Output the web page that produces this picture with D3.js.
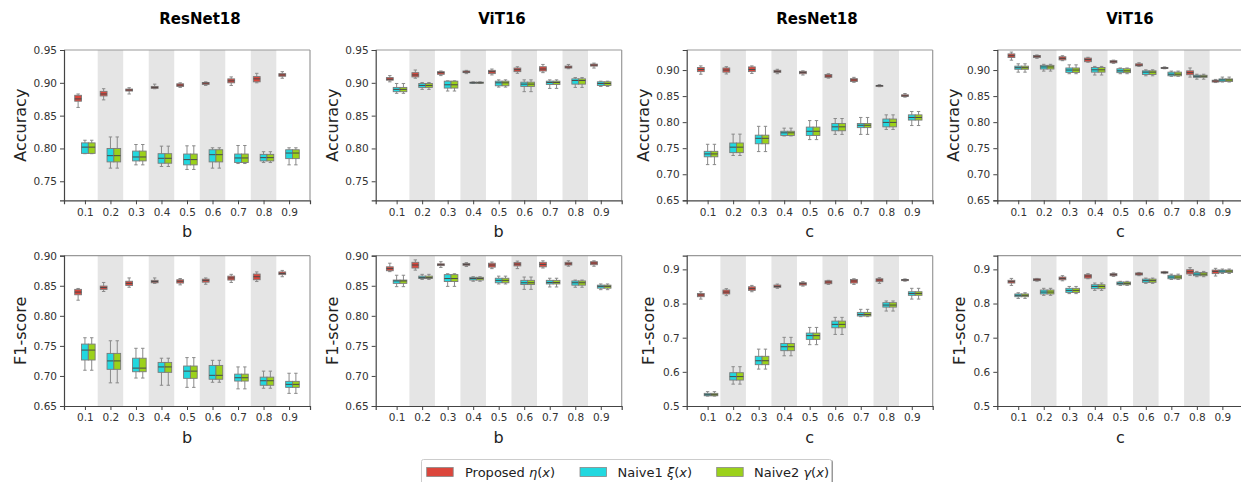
<!DOCTYPE html>
<html>
<head>
<meta charset="utf-8">
<script src="https://cdn.jsdelivr.net/npm/d3@7"></script>
<style>
  body { margin: 0; background: #fff; }
  svg { display: block; font-family: "DejaVu Sans", sans-serif; }
</style>
</head>
<body>
<svg width="1241" height="482"></svg>
<script>
const cats = ["0.1", "0.2", "0.3", "0.4", "0.5", "0.6", "0.7", "0.8", "0.9"];
const seriesNames = ["Proposed", "Naive1", "Naive2"];
const colors = ["#dc463c", "#22d8df", "#9bd11a"];

// each box: [whisker low, q1, median, q3, whisker high]
// Accuracy, ResNet18, b
const accResB_prop = [
  [0.8625, 0.872, 0.8755, 0.881, 0.883], [0.874, 0.880, 0.883, 0.887, 0.891],
  [0.883, 0.8875, 0.889, 0.8905, 0.8925], [0.891, 0.8915, 0.893, 0.8945, 0.898],
  [0.893, 0.8945, 0.8965, 0.8985, 0.900], [0.896, 0.8975, 0.8995, 0.9005, 0.9015],
  [0.896, 0.900, 0.903, 0.906, 0.909], [0.900, 0.9015, 0.906, 0.9095, 0.9145],
  [0.907, 0.910, 0.912, 0.914, 0.917]
];
const accResB_naive1 = [
  [0.792, 0.7925, 0.802, 0.8085, 0.8125], [0.770, 0.7795, 0.789, 0.800, 0.8175],
  [0.775, 0.781, 0.787, 0.796, 0.806], [0.7725, 0.7775, 0.785, 0.792, 0.8035],
  [0.768, 0.775, 0.783, 0.7915, 0.804], [0.770, 0.7795, 0.7905, 0.798, 0.801],
  [0.777, 0.7785, 0.7855, 0.7915, 0.8045], [0.7785, 0.781, 0.786, 0.791, 0.795],
  [0.775, 0.7845, 0.793, 0.798, 0.801]
];
// Accuracy, ViT16, b
const accVitB_prop = [
  [0.9015, 0.904, 0.9055, 0.908, 0.911], [0.907, 0.909, 0.912, 0.9155, 0.9195],
  [0.911, 0.913, 0.9155, 0.917, 0.918], [0.914, 0.9155, 0.9165, 0.918, 0.919],
  [0.912, 0.914, 0.917, 0.919, 0.921], [0.9145, 0.917, 0.920, 0.9225, 0.9245],
  [0.9155, 0.918, 0.921, 0.9245, 0.928], [0.9215, 0.9225, 0.924, 0.9255, 0.928],
  [0.9225, 0.9255, 0.927, 0.9285, 0.930]
];
const accVitB_naive1 = [
  [0.884, 0.8865, 0.890, 0.893, 0.899], [0.890, 0.893, 0.896, 0.899, 0.9005],
  [0.8875, 0.892, 0.897, 0.9025, 0.903], [0.899, 0.8995, 0.900, 0.901, 0.9015],
  [0.8935, 0.8955, 0.900, 0.9025, 0.9045], [0.8865, 0.8945, 0.898, 0.901, 0.9045],
  [0.8915, 0.8975, 0.9005, 0.9025, 0.9045], [0.893, 0.898, 0.9035, 0.906, 0.908],
  [0.8945, 0.896, 0.899, 0.9015, 0.9025]
];
// Accuracy, ResNet18, c
const accResC_prop = [
  [0.892, 0.897, 0.901, 0.905, 0.908], [0.8925, 0.896, 0.900, 0.904, 0.9065],
  [0.8935, 0.897, 0.901, 0.906, 0.908], [0.893, 0.8955, 0.8975, 0.8995, 0.9015],
  [0.8905, 0.893, 0.8955, 0.8975, 0.8985], [0.8845, 0.886, 0.8885, 0.8915, 0.893],
  [0.8765, 0.878, 0.881, 0.8835, 0.886], [0.868, 0.8685, 0.870, 0.8705, 0.872],
  [0.848, 0.8495, 0.8505, 0.8525, 0.855]
];
const accResC_naive1 = [
  [0.7185, 0.7335, 0.739, 0.744, 0.7575], [0.736, 0.7415, 0.752, 0.760, 0.777],
  [0.7435, 0.7585, 0.769, 0.775, 0.792], [0.7735, 0.7745, 0.7795, 0.7825, 0.7885],
  [0.7665, 0.7745, 0.7825, 0.7905, 0.803], [0.7765, 0.7835, 0.791, 0.7975, 0.807],
  [0.7765, 0.7895, 0.794, 0.7975, 0.809], [0.786, 0.791, 0.7995, 0.806, 0.814],
  [0.7935, 0.804, 0.809, 0.814, 0.8205]
];
// Accuracy, ViT16, c
const accVitC_prop = [
  [0.919, 0.924, 0.9275, 0.931, 0.9345], [0.9225, 0.924, 0.9265, 0.928, 0.929],
  [0.918, 0.9195, 0.9225, 0.9255, 0.9275], [0.915, 0.916, 0.920, 0.923, 0.9245],
  [0.913, 0.914, 0.916, 0.918, 0.919], [0.907, 0.908, 0.9095, 0.912, 0.914],
  [0.9025, 0.903, 0.904, 0.905, 0.906], [0.8865, 0.891, 0.895, 0.8985, 0.904],
  [0.876, 0.877, 0.879, 0.8805, 0.882]
];
const accVitC_naive1 = [
  [0.896, 0.9015, 0.9045, 0.9075, 0.912], [0.898, 0.902, 0.906, 0.909, 0.911],
  [0.893, 0.8955, 0.900, 0.904, 0.910], [0.8905, 0.896, 0.9005, 0.905, 0.907],
  [0.893, 0.895, 0.8985, 0.9025, 0.904], [0.889, 0.8915, 0.896, 0.8985, 0.9005],
  [0.888, 0.889, 0.892, 0.896, 0.898], [0.8825, 0.886, 0.888, 0.890, 0.892],
  [0.877, 0.878, 0.881, 0.883, 0.8865]
];
// F1-score, ResNet18, b
const f1ResB_prop = [
  [0.826, 0.835, 0.8395, 0.844, 0.8455], [0.8405, 0.844, 0.847, 0.8495, 0.8555],
  [0.8475, 0.8505, 0.854, 0.8575, 0.863], [0.854, 0.855, 0.857, 0.859, 0.863],
  [0.8515, 0.8545, 0.8575, 0.860, 0.862], [0.8525, 0.856, 0.859, 0.861, 0.863],
  [0.8555, 0.8595, 0.863, 0.866, 0.869], [0.857, 0.860, 0.865, 0.8695, 0.873],
  [0.865, 0.8685, 0.8705, 0.873, 0.8755]
];
const f1ResB_naive1 = [
  [0.7095, 0.7265, 0.743, 0.753, 0.7635], [0.6885, 0.711, 0.725, 0.7375, 0.7585],
  [0.6965, 0.707, 0.713, 0.7295, 0.746], [0.6845, 0.706, 0.715, 0.7225, 0.7295],
  [0.681, 0.696, 0.708, 0.7165, 0.7305], [0.6895, 0.6945, 0.701, 0.7175, 0.726],
  [0.6785, 0.6915, 0.697, 0.703, 0.715], [0.6795, 0.6845, 0.692, 0.698, 0.708],
  [0.671, 0.681, 0.686, 0.691, 0.7045]
];
// F1-score, ViT16, b
const f1VitB_prop = [
  [0.8735, 0.875, 0.8785, 0.8815, 0.8875], [0.876, 0.8795, 0.8845, 0.889, 0.893],
  [0.8805, 0.8835, 0.885, 0.8865, 0.890], [0.882, 0.884, 0.8855, 0.887, 0.8885],
  [0.8785, 0.881, 0.8845, 0.8875, 0.8895], [0.8785, 0.883, 0.886, 0.8885, 0.891],
  [0.8795, 0.8815, 0.8855, 0.889, 0.8915], [0.8825, 0.8845, 0.8865, 0.889, 0.8915],
  [0.8825, 0.885, 0.8878, 0.890, 0.8915]
];
const f1VitB_naive1 = [
  [0.8485, 0.854, 0.858, 0.8595, 0.8675], [0.8605, 0.862, 0.8635, 0.866, 0.869],
  [0.849, 0.857, 0.862, 0.8685, 0.870], [0.8575, 0.8595, 0.862, 0.864, 0.865],
  [0.853, 0.855, 0.859, 0.8625, 0.866], [0.844, 0.852, 0.855, 0.859, 0.8645],
  [0.848, 0.853, 0.8555, 0.859, 0.8625], [0.8475, 0.851, 0.855, 0.858, 0.8595],
  [0.8435, 0.846, 0.849, 0.851, 0.853]
];
// F1-score, ResNet18, c
const f1ResC_prop = [
  [0.813, 0.820, 0.825, 0.8295, 0.8345], [0.823, 0.828, 0.8335, 0.8395, 0.8435],
  [0.8345, 0.8385, 0.8435, 0.849, 0.853], [0.8445, 0.8475, 0.850, 0.854, 0.857],
  [0.851, 0.854, 0.858, 0.861, 0.864], [0.856, 0.858, 0.863, 0.8665, 0.868],
  [0.856, 0.860, 0.866, 0.8705, 0.8725], [0.859, 0.864, 0.869, 0.8725, 0.8755],
  [0.8655, 0.867, 0.869, 0.8705, 0.872]
];
const f1ResC_naive1 = [
  [0.529, 0.530, 0.533, 0.537, 0.542], [0.564, 0.576, 0.586, 0.5975, 0.615],
  [0.608, 0.621, 0.6325, 0.6455, 0.6665], [0.647, 0.662, 0.6735, 0.683, 0.701],
  [0.6795, 0.695, 0.706, 0.7135, 0.730], [0.7095, 0.729, 0.739, 0.7485, 0.7595],
  [0.7615, 0.7635, 0.768, 0.774, 0.783], [0.778, 0.7895, 0.7955, 0.8025, 0.8075],
  [0.813, 0.824, 0.8295, 0.8345, 0.8445]
];
// F1-score, ViT16, c
const f1VitC_prop = [
  [0.853, 0.860, 0.864, 0.868, 0.8735], [0.8655, 0.867, 0.8695, 0.8725, 0.8735],
  [0.8665, 0.8695, 0.8735, 0.8775, 0.8815], [0.8725, 0.8745, 0.8805, 0.8845, 0.8875],
  [0.8795, 0.8815, 0.8845, 0.8875, 0.8895], [0.8815, 0.8835, 0.8865, 0.8895, 0.891],
  [0.8875, 0.889, 0.891, 0.893, 0.894], [0.8825, 0.8865, 0.893, 0.899, 0.905],
  [0.8805, 0.8875, 0.894, 0.898, 0.903]
];
const f1VitC_naive1 = [
  [0.815, 0.820, 0.824, 0.828, 0.8315], [0.824, 0.828, 0.8335, 0.8395, 0.8445],
  [0.829, 0.8325, 0.8385, 0.8445, 0.850], [0.8385, 0.8435, 0.850, 0.855, 0.860],
  [0.853, 0.855, 0.859, 0.863, 0.865], [0.859, 0.862, 0.867, 0.8715, 0.8745],
  [0.8705, 0.8725, 0.8775, 0.8825, 0.886], [0.8785, 0.8815, 0.886, 0.891, 0.894],
  [0.888, 0.891, 0.895, 0.898, 0.901]
];
// Naive2 boxes are drawn identical to Naive1 in every panel of the picture
const accResB_naive2 = accResB_naive1;
const accVitB_naive2 = accVitB_naive1;
const accResC_naive2 = accResC_naive1;
const accVitC_naive2 = accVitC_naive1;
const f1ResB_naive2 = f1ResB_naive1;
const f1VitB_naive2 = f1VitB_naive1;
const f1ResC_naive2 = f1ResC_naive1;
const f1VitC_naive2 = f1VitC_naive1;

const accTicks2 = [0.75, 0.80, 0.85, 0.90, 0.95];
const accTicksC = [0.65, 0.70, 0.75, 0.80, 0.85, 0.90];
const f1TicksB = [0.65, 0.70, 0.75, 0.80, 0.85, 0.90];
const f1TicksC = [0.5, 0.6, 0.7, 0.8, 0.9];

const panels = [
  { title: "ResNet18", xl: "b", yl: "Accuracy", dom: [0.721, 0.95], ticks: accTicks2, fmt: ".2f",
    data: [accResB_prop, accResB_naive1, accResB_naive2], col: 0, row: 0, tx: 200 },
  { title: "ViT16", xl: "b", yl: "Accuracy", dom: [0.721, 0.95], ticks: accTicks2, fmt: ".2f",
    data: [accVitB_prop, accVitB_naive1, accVitB_naive2], col: 1, row: 0, tx: 502 },
  { title: "ResNet18", xl: "c", yl: "Accuracy", dom: [0.65, 0.9385], ticks: accTicksC, fmt: ".2f",
    data: [accResC_prop, accResC_naive1, accResC_naive2], col: 2, row: 0, tx: 817 },
  { title: "ViT16", xl: "c", yl: "Accuracy", dom: [0.65, 0.9385], ticks: accTicksC, fmt: ".2f",
    data: [accVitC_prop, accVitC_naive1, accVitC_naive2], col: 3, row: 0, tx: 1130 },
  { xl: "b", yl: "F1-score", dom: [0.65, 0.90], ticks: f1TicksB, fmt: ".2f",
    data: [f1ResB_prop, f1ResB_naive1, f1ResB_naive2], col: 0, row: 1 },
  { xl: "b", yl: "F1-score", dom: [0.65, 0.90], ticks: f1TicksB, fmt: ".2f",
    data: [f1VitB_prop, f1VitB_naive1, f1VitB_naive2], col: 1, row: 1 },
  { xl: "c", yl: "F1-score", dom: [0.5, 0.94], ticks: f1TicksC, fmt: ".1f",
    data: [f1ResC_prop, f1ResC_naive1, f1ResC_naive2], col: 2, row: 1 },
  { xl: "c", yl: "F1-score", dom: [0.5, 0.94], ticks: f1TicksC, fmt: ".1f",
    data: [f1VitC_prop, f1VitC_naive1, f1VitC_naive2], col: 3, row: 1 }
];

const svg = d3.select("svg");
const lefts = [64, 375.7, 686.7, 997.3];
const tops = [50, 255.7];
const pw = 246, ph = 150.3;

panels.forEach(p => {
  const x0 = lefts[p.col], y0 = tops[p.row];
  const g = svg.append("g").attr("transform", `translate(${x0},${y0})`);

  // index based x so the gray bands and boxes share one scale
  const x = d3.scaleLinear().domain([-0.82, 8.82]).range([0, pw]);
  const y = d3.scaleLinear().domain(p.dom).range([ph, 0]);
  const unit = x(1) - x(0);
  const bw = unit * 0.8 / 3;

  // shaded bands on every second category
  g.selectAll("rect.band")
    .data(cats.map((c, i) => i).filter(i => i % 2 === 1))
    .join("rect")
    .attr("x", i => x(i - 0.5))
    .attr("width", unit)
    .attr("y", 0)
    .attr("height", ph)
    .attr("fill", "#e5e5e5");

  p.data.forEach((arr, s) => {
    const bx = g.append("g");
    arr.forEach((b, i) => {
      const cx = x(i) + (s - 1) * bw;
      const [lo, q1, med, q3, hi] = b;
      bx.append("line").attr("x1", cx).attr("x2", cx).attr("y1", y(lo)).attr("y2", y(q1))
        .attr("stroke", "#8a8a8a").attr("stroke-width", 1);
      bx.append("line").attr("x1", cx).attr("x2", cx).attr("y1", y(q3)).attr("y2", y(hi))
        .attr("stroke", "#8a8a8a").attr("stroke-width", 1);
      [lo, hi].forEach(v => {
        bx.append("line").attr("x1", cx - bw / 4).attr("x2", cx + bw / 4)
          .attr("y1", y(v)).attr("y2", y(v))
          .attr("stroke", "#8a8a8a").attr("stroke-width", 1);
      });
      bx.append("rect")
        .attr("x", cx - bw / 2).attr("width", bw)
        .attr("y", y(q3)).attr("height", Math.max(1, y(q1) - y(q3)))
        .attr("fill", colors[s])
        .attr("stroke", "#7a7a7a").attr("stroke-width", 0.9);
      bx.append("line").attr("x1", cx - bw / 2).attr("x2", cx + bw / 2)
        .attr("y1", y(med)).attr("y2", y(med))
        .attr("stroke", "#4a4a4a").attr("stroke-width", 1);
    });
  });

  // spines
  g.append("line").attr("x1", 0).attr("x2", pw).attr("y1", 0).attr("y2", 0)
    .attr("stroke", "#999").attr("stroke-width", 1.2);
  g.append("line").attr("x1", pw).attr("x2", pw).attr("y1", 0).attr("y2", ph)
    .attr("stroke", "#999").attr("stroke-width", 1.2);

  const ya = g.append("g")
    .call(d3.axisLeft(y).tickValues(p.ticks).tickFormat(d3.format(p.fmt)).tickSize(4).tickPadding(3));
  const xa = g.append("g").attr("transform", `translate(0,${ph})`)
    .call(d3.axisBottom(x).tickValues(d3.range(9)).tickFormat(i => cats[i]).tickSize(4).tickPadding(4));
  [ya, xa].forEach(a => {
    a.select(".domain").attr("stroke", "#444").attr("stroke-width", 1.2);
    a.selectAll(".tick line").attr("stroke", "#444");
    a.selectAll(".tick text").attr("fill", "#333").style("font-size", "10.5px")
      .style("font-family", "DejaVu Sans, sans-serif");
  });

  g.append("text")
    .attr("x", pw / 2).attr("y", ph + 37)
    .attr("text-anchor", "middle")
    .style("font-size", "16px").attr("fill", "#222")
    .text(p.xl);

  const off = p.fmt === ".1f" ? 38 : 43.5;
  g.append("text")
    .attr("transform", `translate(${-off},${ph / 2}) rotate(-90)`)
    .attr("text-anchor", "middle").attr("dominant-baseline", "central")
    .style("font-size", "16px").attr("fill", "#222")
    .text(p.yl);

  if (p.title) {
    svg.append("text")
      .attr("x", p.tx).attr("y", 24)
      .attr("text-anchor", "middle")
      .style("font-size", "15px").style("font-weight", "bold")
      .text(p.title);
  }
});

// legend
const legend = svg.append("g").attr("transform", "translate(421.5,459.5)");
legend.append("rect").attr("x", 1.5).attr("y", 0.5).attr("width", 410).attr("height", 30)
  .attr("fill", "#999").attr("rx", 2);
legend.append("rect").attr("x", 0).attr("y", 0).attr("width", 410).attr("height", 30)
  .attr("fill", "#fff").attr("stroke", "#ccc").attr("rx", 2);
const legendItems = [
  { pre: "Proposed ", sym: "η", x: 5.2, tx: 43.5 },
  { pre: "Naive1 ", sym: "ξ", x: 158.5, tx: 196 },
  { pre: "Naive2 ", sym: "γ", x: 295.2, tx: 332.5 }
];
legendItems.forEach((it, s) => {
  legend.append("rect").attr("x", it.x).attr("y", 8).attr("width", 26.5).attr("height", 9)
    .attr("fill", colors[s]).attr("stroke", "#888").attr("stroke-width", 0.8);
  const t = legend.append("text").attr("x", it.tx).attr("y", 17.5)
    .style("font-size", "13px").attr("fill", "#222");
  t.append("tspan").text(seriesNames[s] + it.pre.slice(seriesNames[s].length));
  t.append("tspan").style("font-style", "italic").text(it.sym);
  t.append("tspan").text("(");
  t.append("tspan").style("font-style", "italic").text("x");
  t.append("tspan").text(")");
});
</script>
</body>
</html>
